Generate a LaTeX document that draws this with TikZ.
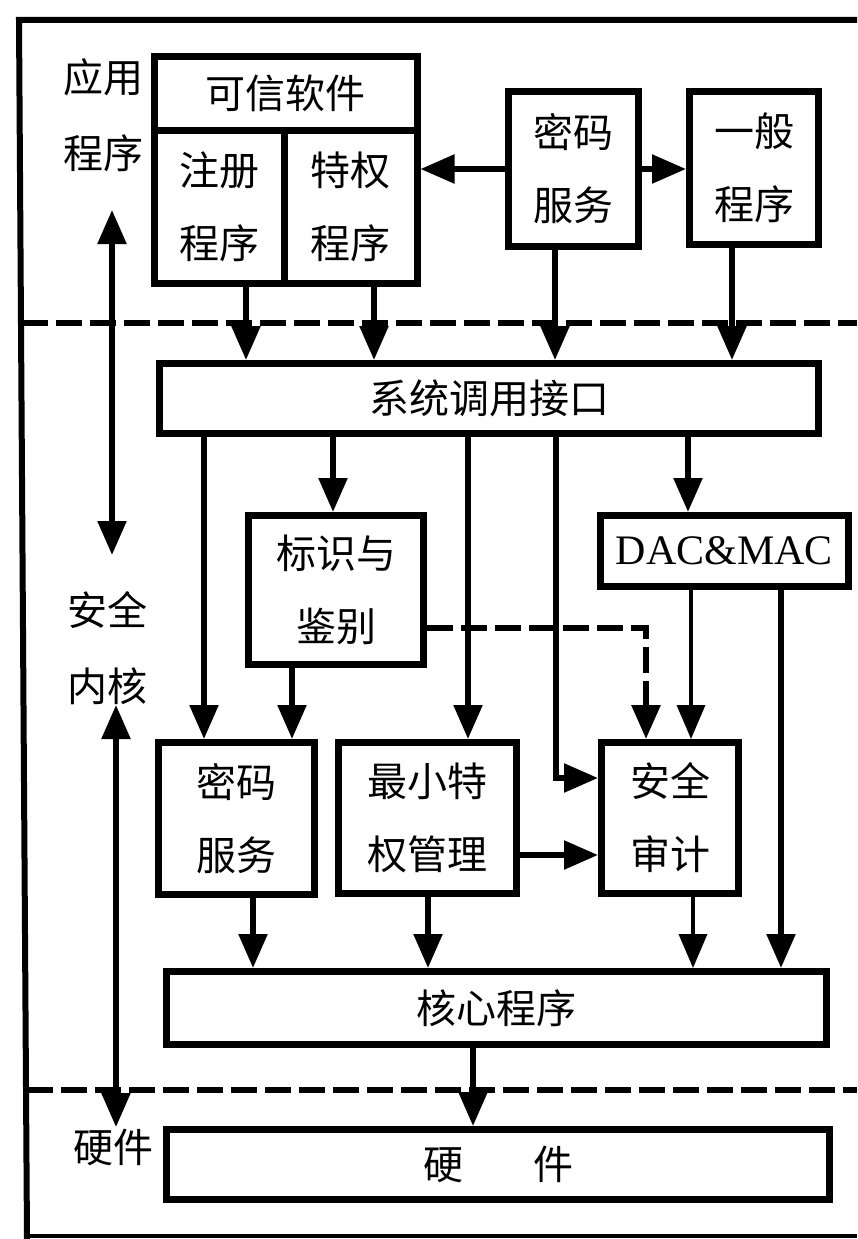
\documentclass[tikz,border=0pt]{standalone}
\usepackage{fontspec}
\setmainfont{Liberation Serif}
\newfontfamily\cjk{Noto Sans CJK SC}
\usetikzlibrary{arrows.meta,calc}
\begin{document}
\begin{tikzpicture}[x=1pt,y=-1pt,
  box/.style={draw, line width=7pt, inner sep=0pt, align=center,
    font=\cjk\fontsize{40pt}{73pt}\selectfont},
  lbl/.style={inner sep=0pt, align=center, font=\cjk\fontsize{40pt}{76pt}\selectfont},
  tip/.style={-{Triangle[width=28pt,length=34pt]}},
  arr/.style={line width=5.5pt, tip},
  thinline/.style={line width=3.5pt},
  dashline/.style={line width=6pt, dash pattern=on 26pt off 8pt},
  frame/.style={line width=6pt}
]
\useasboundingbox (0,0) rectangle (857,1239);
\fill[white] (0,0) rectangle (857,1239);

% outer frame and layer separators
\draw[frame] (857,20) -- (19,20) -- (27,1239);
\draw[line width=4pt] (27,1236) -- (857,1236);
\draw[dashline] (22,323) -- (857,323);
\draw[dashline] (27,1090) -- (857,1090);

% left labels
\node[lbl] (lapp) at (103,115) {应用\\程序};
\node[lbl] (lker) at (107,648) {安全\\内核};
\node[lbl] (lhw)  at (113,1147) {硬件};

% application layer
\node[box, minimum width=263pt, minimum height=73pt] (trust) at (285.5,93.5) {可信软件};
\node[box, minimum width=130pt, minimum height=153pt] (reg) at (219,206.5) {注册\\程序};
\node[box, minimum width=133pt, minimum height=153pt] (priv) at (350.5,206.5) {特权\\程序};
\node[box, minimum width=130pt, minimum height=155pt] (pw1) at (573.5,169) {密码\\服务};
\node[box, minimum width=129pt, minimum height=153pt] (gen) at (754,168) {一般\\程序};

% kernel
\node[box, minimum width=659pt, minimum height=70pt] (syscall) at (489,398.5) {系统调用接口};
\node[box, minimum width=175pt, minimum height=149pt] (ident) at (336,590) {标识与\\鉴别};
\node[box, minimum width=248pt, minimum height=71pt, font=\fontsize{42pt}{48pt}\selectfont] (dac) at (724.5,551) {DAC\&MAC};
\node[box, minimum width=156pt, minimum height=152pt] (pw2) at (236.5,818.5) {密码\\服务};
\node[box, minimum width=178pt, minimum height=151pt] (minpriv) at (427.5,818) {最小特\\权管理};
\node[box, minimum width=137pt, minimum height=151pt] (audit) at (670,818) {安全\\审计};
\node[box, minimum width=660pt, minimum height=73pt] (core) at (496.5,1008) {核心程序};

% hardware
\node[box, minimum width=663pt, minimum height=70pt] (hw) at (498,1164.5) {硬\hspace{70pt}件};

% application layer connectors
\draw[arr] (pw1.west) -- (priv.east |- pw1.west);
\draw[arr] (pw1.east) -- (gen.west |- pw1.east);
\draw[arr] (reg.south -| 246,0) -- (syscall.north -| 246,0);
\draw[arr] (priv.south -| 374,0) -- (syscall.north -| 374,0);
\draw[arr] (pw1.south -| 555,0) -- (syscall.north -| 555,0);
\draw[arr] (gen.south -| 732,0) -- (syscall.north -| 732,0);

% kernel connectors
\draw[arr] (syscall.south -| 204,0) -- (pw2.north -| 204,0);
\draw[arr] (syscall.south -| 333,0) -- (ident.north -| 333,0);
\draw[arr] (syscall.south -| 468,0) -- (minpriv.north -| 468,0);
\draw[arr] (syscall.south -| 556,0) |- (audit.west |- 0,778);
\draw[arr] (syscall.south -| 688,0) -- (dac.north -| 688,0);
\draw[arr] (ident.south -| 292,0) -- (pw2.north -| 292,0);
\draw[dashline, tip] (ident.east |- 0,628) -| (audit.north -| 646,0);
\draw[thinline, tip] (dac.south -| 691,0) -- (audit.north -| 691,0);
\draw[arr] (dac.south -| 781,0) -- (core.north -| 781,0);
\draw[arr] (minpriv.east |- 0,855) -- (audit.west |- 0,855);
\draw[arr] (pw2.south -| 253,0) -- (core.north -| 253,0);
\draw[arr] (minpriv.south -| 428,0) -- (core.north -| 428,0);
\draw[thinline, tip] (audit.south -| 693,0) -- (core.north -| 693,0);
\draw[arr] (core.south -| 473,0) -- (hw.north -| 473,0);

% layer double arrows
\coordinate (da1) at (112,210);
\coordinate (da2) at (112,555);
\coordinate (db1) at (116,705);
\coordinate (db2) at (116,1127);
\draw[line width=5.5pt, {Triangle[width=28pt,length=34pt]}-{Triangle[width=28pt,length=34pt]}] (da1) -- (da2);
\draw[line width=5.5pt, {Triangle[width=28pt,length=34pt]}-{Triangle[width=28pt,length=34pt]}] (db1) -- (db2);
\end{tikzpicture}
\end{document}
